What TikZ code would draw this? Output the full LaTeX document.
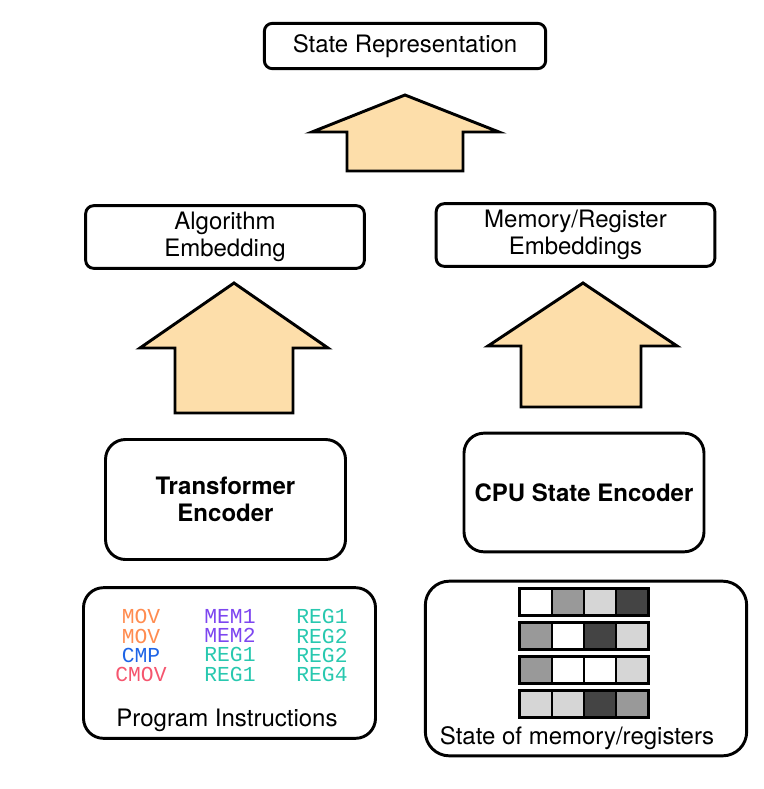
\documentclass[tikz,border=0pt]{standalone}
\usepackage{fontspec}
\setmainfont{TeX Gyre Heros}
\setmonofont{Liberation Mono}
\usetikzlibrary{positioning}

\definecolor{arrowfill}{RGB}{253,222,170}
\definecolor{movcol}{RGB}{255,140,80}
\definecolor{memcol}{RGB}{125,70,240}
\definecolor{cmpcol}{RGB}{30,100,230}
\definecolor{cmovcol}{RGB}{245,85,110}
\definecolor{regcol}{RGB}{40,200,175}
\definecolor{cellgray}{RGB}{153,153,153}
\definecolor{celllight}{RGB}{214,214,214}
\definecolor{celldark}{RGB}{68,68,68}

\tikzset{
  box/.style={draw, line width=2.2pt, align=center, inner sep=0pt,
    font=\fontsize{18}{20}\selectfont},
  bigarrow/.style={draw, line width=2.2pt, fill=arrowfill, line join=miter},
  instr/.style={align=center, inner sep=0pt, font=\fontsize{16}{14.3}\selectfont\ttfamily},
  caption/.style={inner sep=0pt, font=\fontsize{18}{20}\selectfont},
  cell/.style={draw, line width=1.6pt},
  cellrow/.style={draw, line width=2pt}
}

\begin{document}
\begin{tikzpicture}[x=0.75pt, y=-0.75pt]
  \useasboundingbox (0,0) rectangle (764,789);

  % boxes
  \node[box, rounded corners=6pt, minimum width=211pt, minimum height=34pt]
    (staterep) at (405,46) {State Representation};
  \node[box, rounded corners=6pt, minimum width=209pt, minimum height=47pt]
    (algemb) at (225,237) {Algorithm\\Embedding};
  \node[box, rounded corners=6pt, minimum width=209pt, minimum height=47pt]
    (memreg) at (575.5,235) {Memory/Register\\Embeddings};
  \node[box, rounded corners=15pt, minimum width=180pt, minimum height=90pt]
    (transenc) at (225.5,499.5) {\bfseries Transformer\\\bfseries Encoder};
  \node[box, rounded corners=15pt, minimum width=180pt, minimum height=89pt]
    (cpuenc) at (584,492.5) {\bfseries CPU State Encoder};
  \node[box, rounded corners=15pt, minimum width=219pt, minimum height=113pt]
    (proginst) at (229.5,663) {};
  \node[box, rounded corners=18pt, minimum width=241pt, minimum height=131pt]
    (memstate) at (586,668.5) {};

  % fat arrows
  \draw[bigarrow] (405,95) -- (499,132) -- (463,132) -- (463,171)
    -- (347,171) -- (347,132) -- (312,132) -- cycle;
  \draw[bigarrow] (234,283) -- (328,348) -- (293,348) -- (293,413)
    -- (175,413) -- (175,348) -- (140,348) -- cycle;
  \draw[bigarrow] (583,283) -- (677,346) -- (641,346) -- (641,407)
    -- (521,407) -- (521,346) -- (488,346) -- cycle;

  % program instructions
  \node[instr] (opcodes) at (141,645.5)
    {\textcolor{movcol}{MOV}\\\textcolor{movcol}{MOV}\\\textcolor{cmpcol}{CMP}\\\textcolor{cmovcol}{CMOV}};
  \node[instr] (firstarg) at (230,645.5)
    {\textcolor{memcol}{MEM1}\\\textcolor{memcol}{MEM2}\\\textcolor{regcol}{REG1}\\\textcolor{regcol}{REG1}};
  \node[instr] (secondarg) at (322,645.5)
    {\textcolor{regcol}{REG1}\\\textcolor{regcol}{REG2}\\\textcolor{regcol}{REG2}\\\textcolor{regcol}{REG4}};
  \node[caption] (proglabel) at (227,720) {Program Instructions};

  % memory/register grid
  \foreach \r/\cols in {0/{white,cellgray,celllight,celldark},
                        1/{cellgray,white,celldark,celllight},
                        2/{cellgray,white,white,celllight},
                        3/{celllight,celllight,celldark,cellgray}} {
    \foreach \c [count=\i from 0] in \cols
      \draw[cell, fill=\c] (519.5+32.25*\i,588.5+34*\r) rectangle ++(32.25,27);
    \draw[cellrow] (519.5,588.5+34*\r) rectangle ++(129,27);
  }
  \node[caption] (memlabel) at (577,738) {State of memory/registers};
\end{tikzpicture}
\end{document}
